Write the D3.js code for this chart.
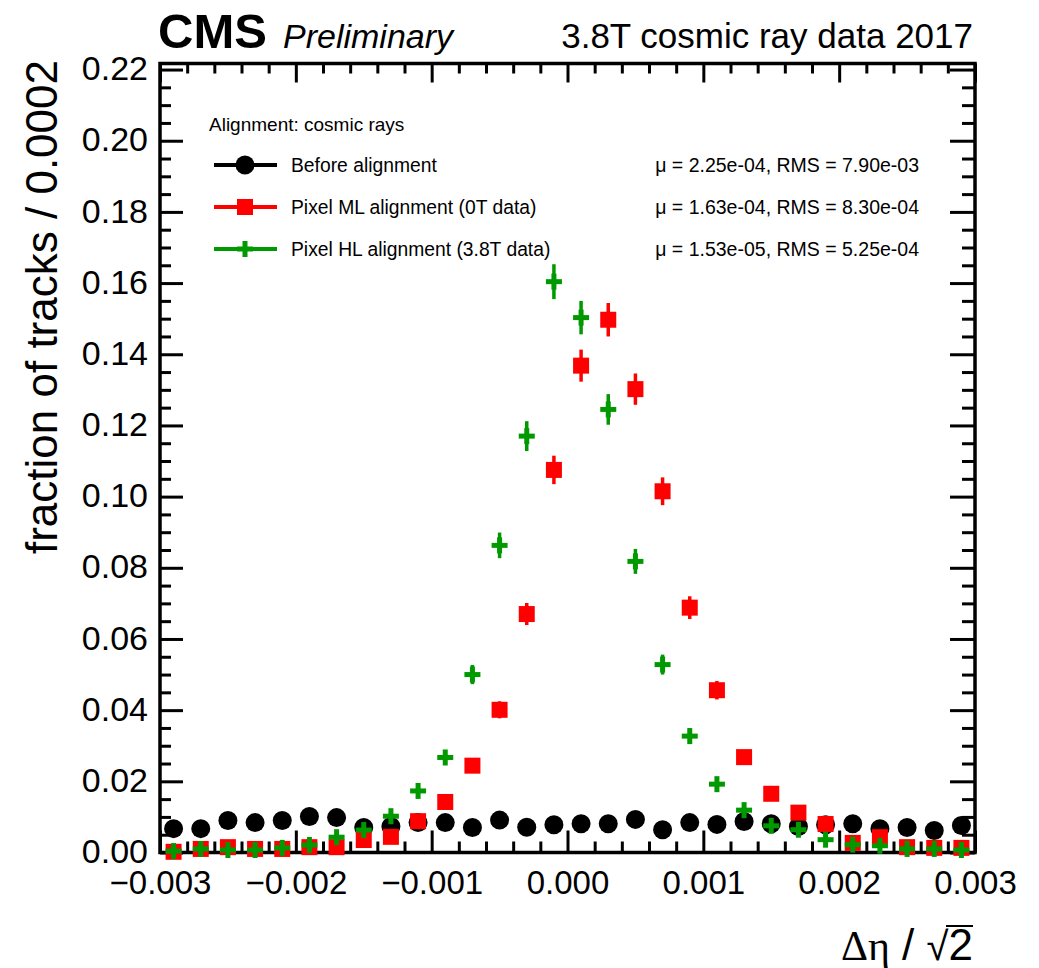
<!DOCTYPE html>
<html>
<head>
<meta charset="utf-8">
<script src="https://cdn.jsdelivr.net/npm/d3@7"></script>
<style>
  body { margin: 0; background: #fff; }
  text { font-family: "Liberation Sans", Arial, Helvetica, sans-serif; }
</style>
</head>
<body>
<div id="chart"></div>
<script>
// bin centres of delta-eta / sqrt(2), bin width 0.0002
const binCenters = [-0.0029, -0.0027, -0.0025, -0.0023, -0.0021, -0.0019, -0.0017, -0.0015, -0.0013, -0.0011,
  -0.0009, -0.0007, -0.0005, -0.0003, -0.0001, 0.0001, 0.0003, 0.0005, 0.0007, 0.0009,
  0.0011, 0.0013, 0.0015, 0.0017, 0.0019, 0.0021, 0.0023, 0.0025, 0.0027, 0.0029];

const beforeAlign = [0.0067, 0.0067, 0.0090, 0.0084, 0.0090, 0.0101, 0.0098, 0.0070, 0.0073, 0.0084,
  0.0084, 0.0070, 0.0091, 0.0071, 0.0078, 0.0081, 0.0081, 0.0093, 0.0064, 0.0084,
  0.0079, 0.0087, 0.0081, 0.0073, 0.0078, 0.0081, 0.0067, 0.0070, 0.0062, 0.0076];

const pixelML = [0.0002, 0.0010, 0.0015, 0.0010, 0.0010, 0.0015, 0.0015, 0.0035, 0.0044, 0.0088,
  0.0142, 0.0244, 0.0401, 0.0670, 0.1075, 0.1368, 0.1497, 0.1302, 0.1015, 0.0688,
  0.0456, 0.0268, 0.0165, 0.0112, 0.0080, 0.0027, 0.0043, 0.0015, 0.0013, 0.0013];
const pixelMLErr = [0.0002, 0.0004, 0.0005, 0.0004, 0.0004, 0.0005, 0.0005, 0.0007, 0.0008, 0.0011,
  0.0015, 0.0019, 0.0024, 0.0031, 0.0040, 0.0045, 0.0047, 0.0044, 0.0039, 0.0032,
  0.0026, 0.0020, 0.0016, 0.0013, 0.0011, 0.0006, 0.0008, 0.0005, 0.0004, 0.0004];

const pixelHL = [0.0004, 0.0010, 0.0007, 0.0007, 0.0013, 0.0021, 0.0043, 0.0063, 0.0102, 0.0173,
  0.0267, 0.0500, 0.0863, 0.1170, 0.1604, 0.1503, 0.1245, 0.0818, 0.0528, 0.0327,
  0.0192, 0.0119, 0.0075, 0.0064, 0.0036, 0.0022, 0.0019, 0.0010, 0.0010, 0.0007];
const pixelHLErr = [0.0002, 0.0004, 0.0003, 0.0003, 0.0004, 0.0006, 0.0008, 0.0010, 0.0012, 0.0016,
  0.0020, 0.0027, 0.0036, 0.0042, 0.0049, 0.0047, 0.0043, 0.0035, 0.0028, 0.0022,
  0.0017, 0.0013, 0.0011, 0.0010, 0.0007, 0.0006, 0.0005, 0.0004, 0.0004, 0.0003];

const seriesNames = ["Before alignment", "Pixel ML alignment (0T data)", "Pixel HL alignment (3.8T data)"];
const seriesStats = ["\u03bc = 2.25e-04, RMS = 7.90e-03", "\u03bc = 1.63e-04, RMS = 8.30e-04", "\u03bc = 1.53e-05, RMS = 5.25e-04"];
const xTickValues = [-0.003, -0.002, -0.001, 0, 0.001, 0.002, 0.003];
const yTickValues = [0, 0.02, 0.04, 0.06, 0.08, 0.10, 0.12, 0.14, 0.16, 0.18, 0.20, 0.22];

const width = 1039, height = 968;
const marginLeft = 160, marginRight = 975, marginTop = 63.5, marginBottom = 852.5;

const x = d3.scaleLinear().domain([-0.003, 0.003]).range([marginLeft, marginRight]);
const y = d3.scaleLinear().domain([0, 0.2217]).range([marginBottom, marginTop]);

const svg = d3.select("#chart").append("svg")
    .attr("width", width)
    .attr("height", height)
    .attr("viewBox", [0, 0, width, height]);

// minor tick values (every 0.0002 in x, 0.005 in y), skipping the major ones
const xMinor = d3.range(-15, 16).filter(i => i % 5 !== 0).map(i => i * 0.0002);
const yMinor = d3.range(0, 45).filter(i => i % 4 !== 0).map(i => i * 0.005);

function styleAxis(g) {
  g.select(".domain").remove();
  g.selectAll(".tick line").attr("stroke", "#000").attr("stroke-width", 3);
}

// bottom axis
svg.append("g")
    .attr("transform", `translate(0,${marginBottom})`)
    .call(d3.axisBottom(x).tickValues(xMinor).tickSize(-11).tickFormat(""))
    .call(styleAxis);
svg.append("g")
    .attr("transform", `translate(0,${marginBottom})`)
    .call(d3.axisBottom(x).tickValues(xTickValues).tickSize(-22).tickPadding(18).tickFormat(d3.format(".3f")))
    .call(styleAxis)
    .call(g => g.selectAll("text").attr("font-size", 33).attr("fill", "#000")
      .attr("font-family", "'Liberation Sans', Arial, sans-serif"));

// top axis (ticks only)
svg.append("g")
    .attr("transform", `translate(0,${marginTop})`)
    .call(d3.axisTop(x).tickValues(xMinor).tickSize(-10).tickFormat(""))
    .call(styleAxis);
svg.append("g")
    .attr("transform", `translate(0,${marginTop})`)
    .call(d3.axisTop(x).tickValues(xTickValues).tickSize(-19).tickFormat(""))
    .call(styleAxis);

// left axis
svg.append("g")
    .attr("transform", `translate(${marginLeft},0)`)
    .call(d3.axisLeft(y).tickValues(yMinor).tickSize(-11).tickFormat(""))
    .call(styleAxis);
svg.append("g")
    .attr("transform", `translate(${marginLeft},0)`)
    .call(d3.axisLeft(y).tickValues(yTickValues).tickSize(-23).tickPadding(12).tickFormat(d3.format(".2f")))
    .call(styleAxis)
    .call(g => g.selectAll("text").attr("font-size", 34).attr("fill", "#000").attr("dy", "0.3em")
      .attr("font-family", "'Liberation Sans', Arial, sans-serif"));

// right axis (ticks only)
svg.append("g")
    .attr("transform", `translate(${marginRight},0)`)
    .call(d3.axisRight(y).tickValues(yMinor).tickSize(-13).tickFormat(""))
    .call(styleAxis);
svg.append("g")
    .attr("transform", `translate(${marginRight},0)`)
    .call(d3.axisRight(y).tickValues(yTickValues).tickSize(-25).tickFormat(""))
    .call(styleAxis);

// frame
svg.append("rect")
    .attr("x", marginLeft).attr("y", marginTop)
    .attr("width", marginRight - marginLeft).attr("height", marginBottom - marginTop)
    .attr("fill", "none").attr("stroke", "#000").attr("stroke-width", 3.5);

// markers
function drawMarker(g, type, color) {
  if (type === "circle") {
    g.append("circle").attr("r", 9.5).attr("fill", color);
  } else if (type === "square") {
    g.append("rect").attr("x", -8).attr("y", -8).attr("width", 16).attr("height", 16).attr("fill", color);
  } else {
    g.append("rect").attr("x", -8).attr("y", -2.5).attr("width", 16).attr("height", 5).attr("fill", color);
    g.append("rect").attr("x", -2.5).attr("y", -8).attr("width", 5).attr("height", 16).attr("fill", color);
  }
}

const series = [
  { name: seriesNames[0], values: beforeAlign, errors: null, color: "#000000", marker: "circle" },
  { name: seriesNames[1], values: pixelML, errors: pixelMLErr, color: "#ff0000", marker: "square" },
  { name: seriesNames[2], values: pixelHL, errors: pixelHLErr, color: "#009900", marker: "plus" }
];

series.forEach(s => {
  const g = svg.append("g");
  if (s.errors) {
    g.selectAll("line.err")
      .data(binCenters)
      .join("line")
        .attr("class", "err")
        .attr("x1", d => x(d)).attr("x2", d => x(d))
        .attr("y1", (d, i) => y(s.values[i] - s.errors[i]))
        .attr("y2", (d, i) => y(s.values[i] + s.errors[i]))
        .attr("stroke", s.color)
        .attr("stroke-width", 3.5);
  }
  g.selectAll("g.pt")
    .data(binCenters)
    .join("g")
      .attr("class", "pt")
      .attr("transform", (d, i) => `translate(${x(d)},${y(s.values[i])})`)
      .each(function() { drawMarker(d3.select(this), s.marker, s.color); });
});

// legend
const legend = svg.append("g");
legend.append("text")
    .attr("x", 209).attr("y", 131)
    .attr("font-size", 19)
    .text("Alignment: cosmic rays");

series.forEach((s, i) => {
  const ly = 165 + i * 42;
  legend.append("line")
      .attr("x1", 214).attr("x2", 277)
      .attr("y1", ly).attr("y2", ly)
      .attr("stroke", s.color).attr("stroke-width", 4);
  drawMarker(legend.append("g").attr("transform", `translate(245,${ly})`), s.marker, s.color);
  legend.append("text")
      .attr("x", 291).attr("y", ly + 7)
      .attr("font-size", 19.3)
      .text(s.name);
  legend.append("text")
      .attr("x", 919).attr("y", ly + 7)
      .attr("text-anchor", "end")
      .attr("font-size", 19.5)
      .text(seriesStats[i]);
});

// header
svg.append("text")
    .attr("x", 158).attr("y", 48)
    .attr("font-size", 49).attr("font-weight", "bold")
    .text("CMS");
svg.append("text")
    .attr("x", 283).attr("y", 48)
    .attr("font-size", 34).attr("font-style", "italic")
    .text("Preliminary");
svg.append("text")
    .attr("x", 973).attr("y", 48)
    .attr("text-anchor", "end")
    .attr("font-size", 35)
    .text("3.8T cosmic ray data 2017");

// y title
svg.append("text")
    .attr("transform", "translate(57,60) rotate(-90)")
    .attr("text-anchor", "end")
    .attr("font-size", 44)
    .text("fraction of tracks / 0.0002");

// x title: Δη / √2
const xt = svg.append("text")
    .attr("x", 973).attr("y", 960)
    .attr("text-anchor", "end")
    .attr("font-size", 44);
xt.append("tspan").attr("font-family", "'Liberation Serif', 'DejaVu Serif', serif").attr("font-size", 42).text("\u0394\u03b7");
xt.append("tspan").text(" / ");
xt.append("tspan").attr("font-size", 40).text("\u221a");
xt.append("tspan").text("2");
svg.append("line")
    .attr("x1", 973 - 27).attr("x2", 973)
    .attr("y1", 926).attr("y2", 926)
    .attr("stroke", "#000").attr("stroke-width", 2);
</script>
</body>
</html>
